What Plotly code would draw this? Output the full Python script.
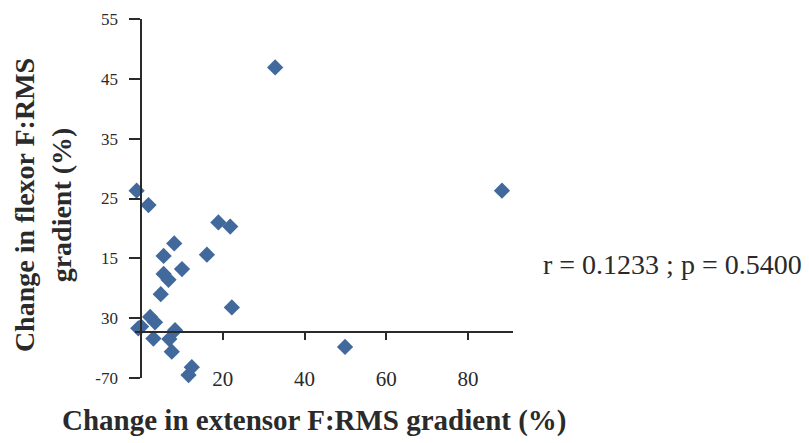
import plotly.graph_objects as go

# Data
ext_change = [-1.1, 1.8, 18.9, 21.8, 8.1, 5.5, 16.1, 10.0, 5.5, 6.7, 4.8, 22.2,
              2.2, 3.4, 0.0, -0.7, 3.0, 6.9, 8.3, 7.5, 12.4, 11.6, 32.8, 88.3, 49.9]
flex_change = [26.3, 23.9, 21.0, 20.3, 17.5, 15.4, 15.6, 13.2, 12.4, 11.4, 9.0, 6.8,
               5.2, 4.3, 3.6, 3.3, 1.6, 1.5, 3.0, -0.6, -3.2, -4.5, 46.9, 26.3, 0.2]

y_tickvals = [55, 45, 35, 25, 15, 5, -5]
y_ticktext = ["55", "45", "35", "25", "15", "30", "-70"]
x_tickvals = [0, 20, 40, 60, 80]
x_ticktext = ["", "20", "40", "60", "80"]

y_min, y_max = -5, 55
x_min, x_max = -1.5, 91
x_axis_cross = 2.7   # y value where the horizontal axis is drawn
y_axis_cross = 0     # x value where the vertical axis is drawn

stats_text = "r = 0.1233 ; p = 0.5400"
x_title = "Change in extensor F:RMS gradient (%)"
y_title = "Change in flexor F:RMS<br>gradient (%)"

serif = "Liberation Serif, Times New Roman, serif"
ink = "#2a2a2a"

fig = go.Figure()
fig.add_trace(go.Scatter(
    x=ext_change, y=flex_change, mode="markers",
    marker=dict(symbol="diamond", size=12.5, color="#41699b"),
    cliponaxis=False, showlegend=False,
))

fig.update_layout(
    width=809, height=443,
    margin=dict(l=127, r=304, t=11, b=73),
    paper_bgcolor="white", plot_bgcolor="white",
    font=dict(family=serif, color=ink),
    xaxis=dict(
        range=[x_min, x_max], tickvals=x_tickvals, ticktext=x_ticktext,
        showgrid=False, zeroline=False, showline=True, linecolor=ink, linewidth=1.5,
        ticks="outside", ticklen=7, tickwidth=1.5, tickcolor=ink,
        tickfont=dict(family=serif, size=21, color=ink),
        anchor="free", position=(x_axis_cross - y_min) / (y_max - y_min),
        ticklabelstandoff=21, automargin=False,
    ),
    yaxis=dict(
        range=[y_min, y_max], tickvals=y_tickvals, ticktext=y_ticktext,
        showgrid=False, zeroline=False, showline=True, linecolor=ink, linewidth=1.5,
        ticks="outside", ticklen=11, tickwidth=1.5, tickcolor=ink,
        tickfont=dict(family=serif, size=17, color=ink),
        anchor="free", position=(y_axis_cross - x_min) / (x_max - x_min),
        ticklabelstandoff=8, automargin=False,
    ),
    annotations=[
        dict(text="<b>" + x_title + "</b>", xref="paper", yref="paper",
             x=0.474, y=-0.117, xanchor="center", yanchor="middle", showarrow=False,
             font=dict(family=serif, size=29, color=ink)),
        dict(text="<b>" + y_title + "</b>", xref="paper", yref="paper",
             x=-0.243, y=0.482, xanchor="center", yanchor="middle", showarrow=False,
             textangle=-90, font=dict(family=serif, size=28, color=ink)),
        dict(text=stats_text, xref="paper", yref="paper",
             x=1.421, y=0.315, xanchor="center", yanchor="middle", showarrow=False,
             font=dict(family=serif, size=28, color=ink)),
    ],
)

fig.write_html("out.html")
